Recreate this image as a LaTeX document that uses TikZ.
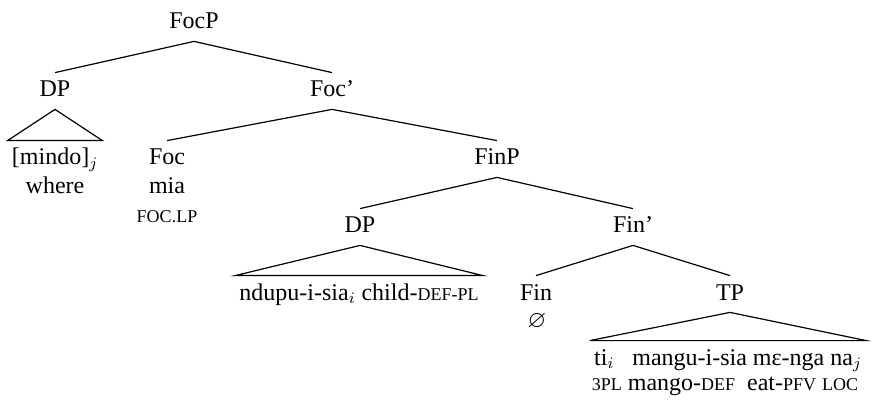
\documentclass[tikz,border=0pt]{standalone}
\usepackage{amssymb}
\usepackage{fontspec}
\setmainfont{Liberation Serif}
\usepackage{tikz}
\usetikzlibrary{positioning}
\newcommand{\gl}[1]{{\fontsize{9}{10}\selectfont\MakeUppercase{#1}}}

\begin{document}
\begin{tikzpicture}[
  x=0.5pt, y=-0.5pt,
  font=\fontsize{12}{14}\selectfont,
  cat/.style={anchor=base, inner xsep=2pt, inner ysep=0pt, text height=12pt, text depth=6pt},
  leaf/.style={anchor=base, inner sep=0pt},
  branch/.style={line width=0.6pt, line join=miter},
  roof/.style={line width=0.6pt, line join=miter}
]
\useasboundingbox (0,0) rectangle (871,400);

\node[cat] (focp) at (194,29) {FocP};
\node[cat] (dpa) at (55,97) {DP};
\node[cat] (focbar) at (332,97) {Foc'};
\node[cat] (mindo) at (55,165) {[mindo]$_j$};
\node[leaf] (where) at (55,194) {where};
\node[cat] (foc) at (167,165) {Foc};
\node[leaf] (mia) at (167,194) {mia};
\node[leaf] (foclp) at (167,223) {\gl{foc.lp}};
\node[cat] (finp) at (497,165) {FinP};
\node[cat] (dpb) at (360,233) {DP};
\node[cat] (finbar) at (633,233) {Fin'};
\node[cat] (ndupu) at (359,300) {ndupu-i-sia$_i$ child-\gl{def-pl}};
\node[cat] (fin) at (536,300) {Fin};
\node[leaf] (empty) at (537,328) {$\varnothing$};
\node[cat] (tp) at (730,300) {TP};
\node[cat] (tpa) at (728,365) {ti$_i$\enspace\ mangu-i-sia mɛ-nga na$_j$};
\node[leaf] (tpb) at (725,390) {\gl{3pl} mango-\gl{def}\enspace eat-\gl{pfv} \gl{loc}};

% branches
\draw[branch] (dpa.north) -- (focp.south) -- (focbar.north);
\draw[branch] (foc.north) -- (focbar.south) -- (finp.north);
\draw[branch] (dpb.north) -- (finp.south) -- (finbar.north);
\draw[branch] (fin.north) -- (finbar.south) -- (tp.north);

% roofs
\draw[roof] (mindo.north west) -- (dpa.south) -- (mindo.north east) -- cycle;
\draw[roof] (ndupu.north west) -- (dpb.south) -- (ndupu.north east) -- cycle;
\draw[roof] (tpa.north west) -- (tp.south) -- (tpa.north east) -- cycle;
\end{tikzpicture}
\end{document}
